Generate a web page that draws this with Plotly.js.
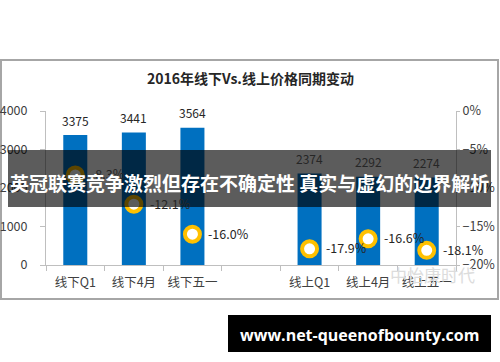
<!DOCTYPE html>
<html><head><meta charset="utf-8">
<script src="https://cdn.plot.ly/plotly-3.0.1.min.js"></script>
<style>html,body{margin:0;padding:0;background:#fff}#c{width:500px;height:362px}</style>
</head><body><div id="c"></div>
<script>
const categories = ["线下Q1","线下4月","线下五一"," ","线上Q1","线上4月","线上五一"];
const prices = [3375, 3441, 3564, null, 2374, 2292, 2274];
const changes = [-0.083, -0.121, -0.160, null, -0.179, -0.166, -0.181];
const chartTitle = "2016年线下Vs.线上价格同期变动";
const bannerText = "英冠联赛竞争激烈但存在不确定性 真实与虚幻的边界解析";
const urlText = "www.net-queenofbounty.com";
const watermark = "中怡康时代";

const L = 46, R = 44, T = 111, B = 97, W = 500, H = 362;
const pw = W - L - R, ph = H - T - B;
const xp = px => (px - L) / pw;
const yp = py => (H - B - py) / ph;
const cjk = '"Noto Sans CJK SC", "Noto Sans", sans-serif';

const bars = {
  type: 'bar', x: categories, y: prices, marker: {color: '#0070C0'},
  hoverinfo: 'none', yaxis: 'y'
};
const pts = {
  type: 'scatter', mode: 'markers', x: categories, y: changes, yaxis: 'y2',
  marker: {size: 15, color: '#ffffff', line: {color: '#FFC000', width: 4}},
  hoverinfo: 'none', cliponaxis: false
};

const ann = [];
categories.forEach((c, i) => {
  if (prices[i] != null) ann.push({x: c, y: prices[i], xref: 'x', yref: 'y', text: String(prices[i]),
    showarrow: false, yshift: 15, xanchor: 'center', yanchor: 'middle',
    font: {family: cjk, size: 12, color: '#262626'}});
  if (changes[i] != null) ann.push({x: c, y: changes[i], xref: 'x', yref: 'y2',
    text: (changes[i] * 100).toFixed(1) + '%', showarrow: false, xanchor: 'left', yanchor: 'middle',
    xshift: 14, yshift: 1, font: {family: cjk, size: 12.5, color: '#262626'}});
});
const free = (px, py, text, font) => ({xref: 'paper', yref: 'paper', x: xp(px), y: yp(py), text: text,
  showarrow: false, xanchor: 'center', yanchor: 'middle', font: font});
ann.push(free(250, 78, '<b>' + chartTitle + '</b>', {family: cjk, size: 14, color: '#262626'}));
ann.push(free(432, 274, watermark, {family: cjk, size: 17, color: '#dcdcdc'}));
ann.push(free(249, 182, '<b>' + bannerText + '</b>', {family: cjk, size: 19, color: '#ffffff'}));
ann.push(free(359, 335, '<b>' + urlText + '</b>', {family: '"Open Sans", sans-serif', size: 16, color: '#ffffff'}));

const shapes = [
  {type: 'rect', xref: 'paper', yref: 'paper', x0: xp(1), x1: xp(498), y0: yp(299), y1: yp(60),
    line: {color: '#a6a6a6', width: 2}, layer: 'below'},
  {type: 'rect', xref: 'paper', yref: 'paper', x0: xp(8), x1: xp(491), y0: yp(207), y1: yp(150),
    line: {width: 0}, fillcolor: 'rgba(0,0,0,0.64)', layer: 'above'},
  {type: 'rect', xref: 'paper', yref: 'paper', x0: xp(228), x1: xp(491), y0: yp(352), y1: yp(315),
    line: {width: 0}, fillcolor: '#000000', layer: 'above'}
];

const layout = {
  width: W, height: H, margin: {l: L, r: R, t: T, b: B},
  paper_bgcolor: '#ffffff', plot_bgcolor: 'rgba(0,0,0,0)', showlegend: false, bargap: 0.59,
  font: {family: cjk, color: '#404040'},
  xaxis: {type: 'category', categoryorder: 'array', categoryarray: categories, range: [-0.5, 6.5],
    autorange: false, tickangle: 0, ticklabelstandoff: 6,
    showline: true, linecolor: '#bfbfbf', linewidth: 1, ticks: 'outside', ticklen: 5, tickcolor: '#bfbfbf',
    tickson: 'boundaries', showgrid: false, tickfont: {family: cjk, size: 12.5, color: '#404040'}, fixedrange: true},
  yaxis: {range: [0, 4000], dtick: 1000, showgrid: false, zeroline: false, showline: true, linecolor: '#bfbfbf',
    ticks: 'outside', ticklen: 5, tickcolor: '#bfbfbf', tickfont: {family: cjk, size: 12.5, color: '#404040'},
    ticklabelstandoff: 10, fixedrange: true},
  yaxis2: {overlaying: 'y', side: 'right', range: [-0.2, 0], dtick: 0.05, tickformat: '.0%',
    showgrid: false, zeroline: false, showline: true, linecolor: '#bfbfbf', ticks: 'outside', ticklen: 3,
    tickcolor: '#bfbfbf', tickfont: {family: cjk, size: 12.5, color: '#404040'}, fixedrange: true},
  annotations: ann, shapes: shapes
};
Plotly.newPlot('c', [bars, pts], layout, {displayModeBar: false, staticPlot: true});
</script></body></html>
